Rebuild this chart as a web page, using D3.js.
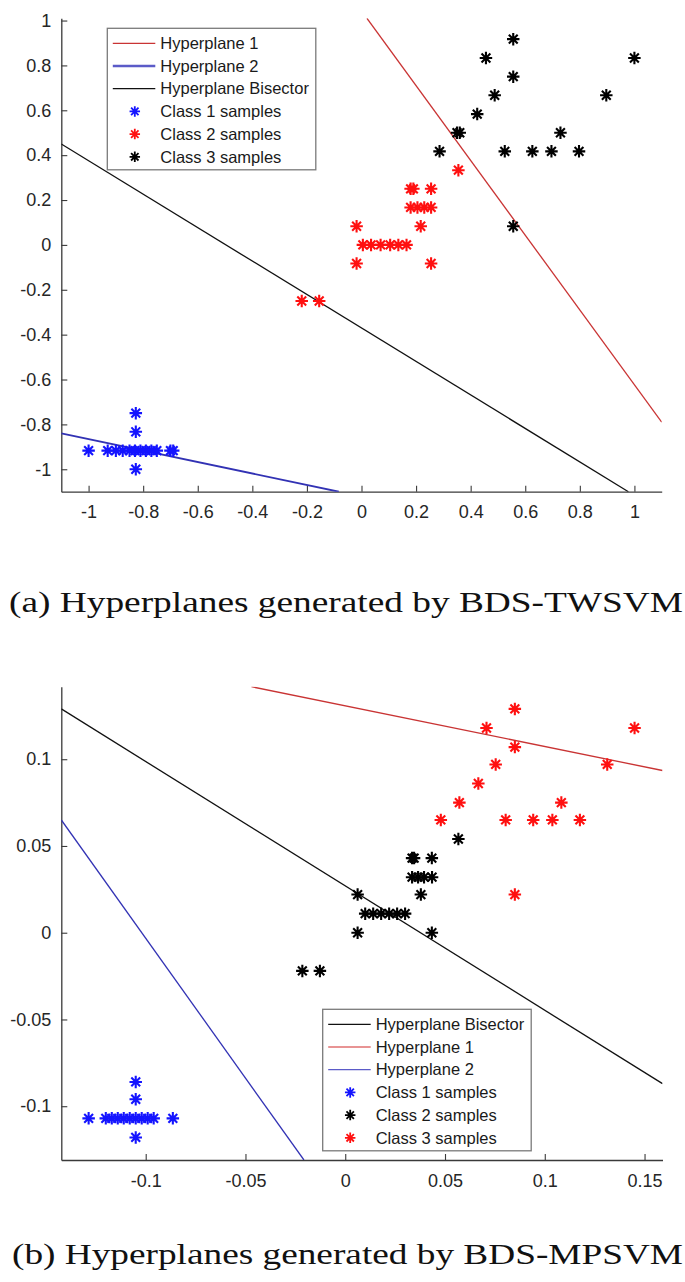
<!DOCTYPE html>
<html>

<head>
    <meta charset="utf-8">
    <title>Hyperplanes generated by BDS-TWSVM and BDS-MPSVM</title>
    <style>
        body {
            margin: 0;
            background: #fff;
        }

        .tick text {
            font-family: "Liberation Sans", Arial, sans-serif;
            font-size: 18px;
            fill: #262626;
        }

        .legend text {
            font-family: "Liberation Sans", Arial, sans-serif;
            font-size: 16.5px;
            fill: #1a1a1a;
        }

        .caption {
            font-family: "Liberation Serif", "Times New Roman", serif;
            font-size: 30px;
            fill: #111;
        }
    </style>
    <script src="https://cdn.jsdelivr.net/npm/d3@7"></script>
</head>

<body>
    <script>
        // ---- data: panel (a) BDS-TWSVM ----
        var aClass1 = [[-1.0, -0.917], [-0.93, -0.917], [-0.9, -0.917], [-0.875, -0.917], [-0.85, -0.917],
            [-0.83, -0.917], [-0.81, -0.917], [-0.79, -0.917], [-0.77, -0.917], [-0.75, -0.917],
            [-0.7, -0.917], [-0.69, -0.917], [-0.827, -0.75], [-0.827, -0.833], [-0.827, -1.0]];
        var aClass2 = [[0.355, 0.333], [0.18, 0.25], [0.19, 0.25], [0.255, 0.25], [0.18, 0.167],
            [0.205, 0.167], [0.23, 0.167], [0.255, 0.167], [0.217, 0.083], [-0.018, 0.083],
            [0.005, 0], [0.035, 0], [0.07, 0], [0.105, 0], [0.135, 0], [0.165, 0],
            [-0.018, -0.083], [0.255, -0.083], [-0.219, -0.25], [-0.155, -0.25]];
        var aClass3 = [[0.556, 0.917], [0.456, 0.833], [0.556, 0.75], [1.0, 0.833], [0.488, 0.667],
            [0.897, 0.667], [0.424, 0.583], [0.35, 0.5], [0.36, 0.5], [0.729, 0.5], [0.286, 0.417],
            [0.525, 0.417], [0.626, 0.417], [0.696, 0.417], [0.797, 0.417], [0.556, 0.083]];
        var aHyper1 = [[0.02, 1.01], [1.1, -0.79]];
        var aHyper2 = [[-1.1, -0.84], [-0.083, -1.1]];
        var aBisector = [[-1.1, 0.45], [0.978, -1.1]];
        var aXTicks = [-1, -0.8, -0.6, -0.4, -0.2, 0, 0.2, 0.4, 0.6, 0.8, 1];
        var aYTicks = [-1, -0.8, -0.6, -0.4, -0.2, 0, 0.2, 0.4, 0.6, 0.8, 1];
        var aLegend = ["Hyperplane 1", "Hyperplane 2", "Hyperplane Bisector",
            "Class 1 samples", "Class 2 samples", "Class 3 samples"];

        // ---- data: panel (b) BDS-MPSVM ----
        var bClass1 = [[-0.1286, -0.107], [-0.12, -0.107], [-0.117, -0.107], [-0.114, -0.107],
            [-0.111, -0.107], [-0.108, -0.107], [-0.105, -0.107], [-0.102, -0.107], [-0.099, -0.107],
            [-0.096, -0.107], [-0.0864, -0.107], [-0.105, -0.086], [-0.105, -0.096], [-0.105, -0.118]];
        var bClass2 = [[0.0567, 0.054], [0.0335, 0.043], [0.0345, 0.043], [0.0434, 0.043],
            [0.0335, 0.032], [0.0365, 0.032], [0.0395, 0.032], [0.0435, 0.032], [0.0379, 0.022],
            [0.0062, 0.022], [0.01, 0.011], [0.014, 0.011], [0.018, 0.011], [0.022, 0.011],
            [0.026, 0.011], [0.03, 0.011], [0.0062, 0], [0.0434, 0], [-0.0215, -0.022], [-0.0127, -0.022]];
        var bClass3 = [[0.085, 0.129], [0.0708, 0.118], [0.145, 0.118], [0.085, 0.107], [0.0754, 0.097],
            [0.1313, 0.097], [0.0667, 0.086], [0.0572, 0.075], [0.1083, 0.075], [0.0479, 0.065],
            [0.0804, 0.065], [0.0942, 0.065], [0.1038, 0.065], [0.1176, 0.065], [0.085, 0.022]];
        var bBisector = [[-0.1423, 0.129], [0.159, -0.087]];
        var bHyper1 = [[-0.047, 0.1418], [0.159, 0.0935]];
        var bHyper2 = [[-0.1423, 0.065], [-0.0207, -0.131]];
        var bXTicks = [-0.1, -0.05, 0, 0.05, 0.1, 0.15];
        var bYTicks = [-0.1, -0.05, 0, 0.05, 0.1];
        var bLegend = ["Hyperplane Bisector", "Hyperplane 1", "Hyperplane 2",
            "Class 1 samples", "Class 2 samples", "Class 3 samples"];

        var RED_LINE = "#c93434", BLUE_LINE = "#3232b4", BLACK = "#111";
        var RED_PT = "#ff1010", BLUE_PT = "#1414ff", BLACK_PT = "#000";

        var svg = d3.select("body").append("svg")
            .attr("width", 685)
            .attr("height", 1282);

        // matlab style '*' marker (plus + cross)
        var starType = {
            draw: function(ctx, size) {
                var r = Math.sqrt(size) / 2, d = r * 0.7071;
                ctx.moveTo(-r, 0); ctx.lineTo(r, 0);
                ctx.moveTo(0, -r); ctx.lineTo(0, r);
                ctx.moveTo(-d, -d); ctx.lineTo(d, d);
                ctx.moveTo(-d, d); ctx.lineTo(d, -d);
            }
        };

        // plain hyphen minus, like the matlab labels
        var fmt = function(d) { return String(d); };

        function drawPanel(cfg) {
            var x = d3.scaleLinear().domain(cfg.xDomain).range([61.3, cfg.right]);
            var y = d3.scaleLinear().domain(cfg.yDomain).range([cfg.bottom, cfg.top]);
            var g = svg.append("g");

            g.append("clipPath").attr("id", cfg.id + "clip")
                .append("rect")
                .attr("x", x.range()[0]).attr("y", cfg.top)
                .attr("width", x.range()[1] - x.range()[0])
                .attr("height", cfg.bottom - cfg.top);

            // axes, ticks pointing inward
            var xAxis = g.append("g")
                .attr("transform", "translate(0," + cfg.bottom + ")")
                .call(d3.axisBottom(x).tickValues(cfg.xTicks).tickSizeInner(-6).tickSizeOuter(0)
                    .tickPadding(14).tickFormat(fmt));
            var yAxis = g.append("g")
                .attr("transform", "translate(" + x.range()[0] + ",0)")
                .call(d3.axisLeft(y).tickValues(cfg.yTicks).tickSizeInner(-6).tickSizeOuter(0)
                    .tickPadding(10).tickFormat(fmt));
            [xAxis, yAxis].forEach(function(a) {
                a.attr("font-size", null).attr("font-family", null);
                a.select(".domain").attr("stroke", "#3a3a3a").attr("stroke-width", 1.3);
                a.selectAll(".tick line").attr("stroke", "#3a3a3a").attr("stroke-width", 1.1);
            });

            // hyperplanes
            var line = d3.line().x(function(d) { return x(d[0]); }).y(function(d) { return y(d[1]); });
            cfg.lines.forEach(function(l) {
                g.append("path")
                    .attr("clip-path", "url(#" + cfg.id + "clip)")
                    .attr("d", line(l.data))
                    .attr("fill", "none")
                    .attr("stroke", l.color)
                    .attr("stroke-width", l.width);
            });

            // samples
            var sym = d3.symbol().type(starType).size(156);
            cfg.points.forEach(function(p) {
                g.selectAll(null)
                    .data(p.data)
                    .enter().append("path")
                    .attr("transform", function(d) { return "translate(" + x(d[0]) + "," + y(d[1]) + ")"; })
                    .attr("d", sym)
                    .attr("fill", "none")
                    .attr("stroke", p.color)
                    .attr("stroke-width", 2.1);
            });

            // legend
            var lg = g.append("g").attr("class", "legend")
                .attr("transform", "translate(" + cfg.legend[0] + "," + cfg.legend[1] + ")");
            lg.append("rect")
                .attr("width", 208.5).attr("height", 141.5)
                .attr("fill", "#fff").attr("stroke", "#7a7a7a").attr("stroke-width", 1.3);
            var smallSym = d3.symbol().type(starType).size(110);
            cfg.legendItems.forEach(function(it, i) {
                var row = lg.append("g").attr("transform", "translate(0," + (15 + i * 22.7) + ")");
                if (it.kind === "line") {
                    row.append("line").attr("x1", 5.5).attr("x2", 48).attr("y1", 0).attr("y2", 0)
                        .attr("stroke", it.color).attr("stroke-width", it.width);
                } else {
                    row.append("path").attr("transform", "translate(27.5,0)").attr("d", smallSym)
                        .attr("fill", "none").attr("stroke", it.color).attr("stroke-width", 1.8);
                }
                row.append("text").attr("x", 53).attr("dy", "0.35em").text(cfg.legendLabels[i]);
            });

            svg.append("text").attr("class", "caption")
                .attr("x", cfg.caption[0]).attr("y", cfg.caption[1])
                .attr("textLength", 683 - cfg.caption[0]).attr("lengthAdjust", "spacingAndGlyphs")
                .text(cfg.captionText);
        }

        drawPanel({
            id: "a",
            xDomain: [-1.1, 1.1], yDomain: [-1.1, 1.01],
            right: 661.7, top: 18.3, bottom: 491.7,
            xTicks: aXTicks, yTicks: aYTicks,
            lines: [
                { data: aHyper1, color: RED_LINE, width: 1.3 },
                { data: aHyper2, color: BLUE_LINE, width: 1.9 },
                { data: aBisector, color: BLACK, width: 1.3 }
            ],
            points: [
                { data: aClass1, color: BLUE_PT },
                { data: aClass2, color: RED_PT },
                { data: aClass3, color: BLACK_PT }
            ],
            legend: [107.3, 28.3],
            legendLabels: aLegend,
            legendItems: [
                { kind: "line", color: RED_LINE, width: 1.3 },
                { kind: "line", color: "#5b5bc8", width: 2.6 },
                { kind: "line", color: BLACK, width: 1.3 },
                { kind: "pt", color: BLUE_PT },
                { kind: "pt", color: RED_PT },
                { kind: "pt", color: BLACK_PT }
            ],
            caption: [9, 612],
            captionText: "(a) Hyperplanes generated by BDS-TWSVM"
        });

        drawPanel({
            id: "b",
            xDomain: [-0.1423, 0.159], yDomain: [-0.131, 0.1418],
            right: 662.5, top: 686.7, bottom: 1160,
            xTicks: bXTicks, yTicks: bYTicks,
            lines: [
                { data: bBisector, color: BLACK, width: 1.3 },
                { data: bHyper1, color: RED_LINE, width: 1.3 },
                { data: bHyper2, color: BLUE_LINE, width: 1.3 }
            ],
            points: [
                { data: bClass1, color: BLUE_PT },
                { data: bClass2, color: BLACK_PT },
                { data: bClass3, color: RED_PT }
            ],
            legend: [322.7, 1009.3],
            legendLabels: bLegend,
            legendItems: [
                { kind: "line", color: BLACK, width: 1.3 },
                { kind: "line", color: "#e07070", width: 1.3 },
                { kind: "line", color: "#5b5bc8", width: 1.3 },
                { kind: "pt", color: BLUE_PT },
                { kind: "pt", color: BLACK_PT },
                { kind: "pt", color: RED_PT }
            ],
            caption: [12, 1264],
            captionText: "(b) Hyperplanes generated by BDS-MPSVM"
        });
    </script>
</body>

</html>
